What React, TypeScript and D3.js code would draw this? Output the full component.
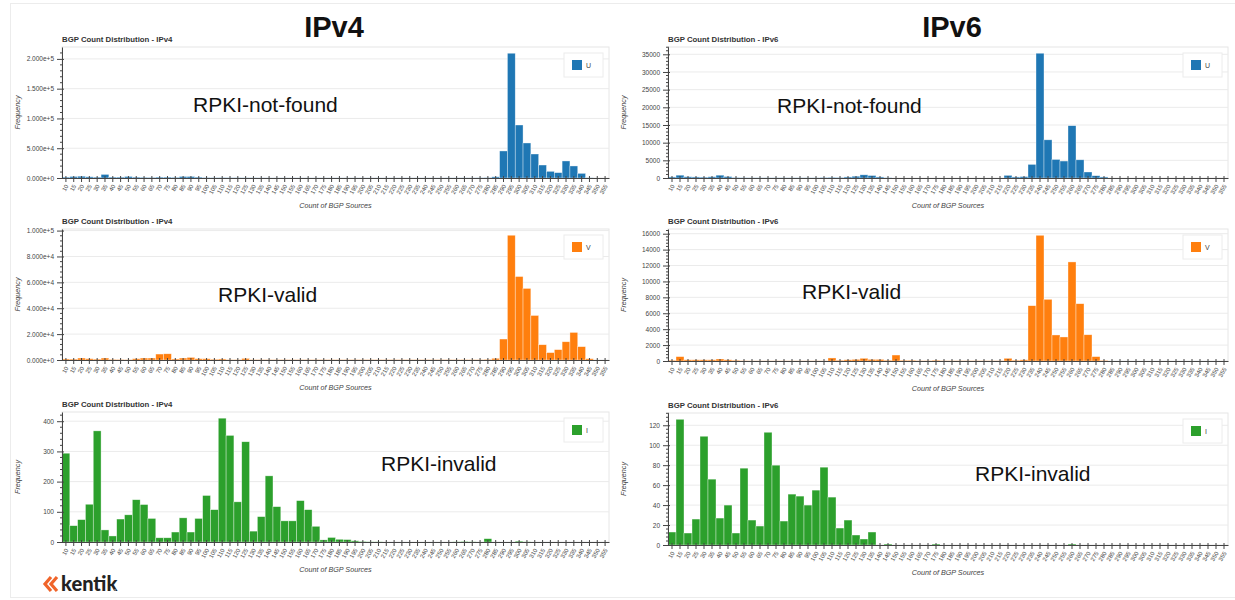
import React, { useEffect, useRef } from 'react';
import * as d3 from 'd3';

// BGP source counts (x categories), one bin per 5 sources
const bgpSources = [
  10, 15, 20, 25, 30, 35, 40, 45, 50, 55, 60, 65, 70, 75, 80, 85, 90, 95, 100, 105,
  110, 115, 120, 125, 130, 135, 140, 145, 150, 155, 160, 165, 170, 175, 180, 185, 190, 195, 200, 205,
  210, 215, 220, 225, 230, 235, 240, 245, 250, 255, 260, 265, 270, 275, 280, 285, 290, 295, 300, 305,
  310, 315, 320, 325, 330, 335, 340, 345, 350, 355,
];

const ipv4NotFound = [
  1500, 2500, 3000, 2000, 1500, 6000, 1500, 1500, 2500, 1500, 1200, 1000, 1500, 1500, 1200, 2500, 2500, 1500, 800, 600,
  500, 400, 400, 300, 300, 200, 150, 150, 150, 150, 150, 150, 150, 150, 150, 150, 150, 150, 150, 150,
  150, 150, 150, 150, 150, 150, 150, 150, 150, 200, 200, 200, 200, 300, 500, 2000, 45400, 209500, 89000, 58800,
  40300, 21800, 11200, 9000, 28600, 20200, 7800, 300, 0, 0,
];

const ipv4Valid = [
  800, 700, 1500, 1000, 700, 1500, 500, 400, 300, 1000, 1500, 1500, 4600, 4800, 800, 1500, 2000, 1000, 1000, 600,
  800, 300, 300, 1200, 300, 200, 200, 200, 200, 200, 200, 200, 200, 200, 200, 200, 200, 200, 200, 200,
  200, 200, 200, 200, 200, 200, 200, 200, 200, 200, 200, 300, 300, 300, 500, 1300, 16200, 96400, 64500, 55300,
  34400, 11800, 5700, 8000, 14100, 21300, 10300, 1000, 0, 0,
];

const ipv4Invalid = [
  294, 54, 74, 125, 368, 40, 20, 76, 90, 140, 124, 78, 14, 14, 33, 80, 33, 78, 154, 107,
  410, 353, 133, 332, 36, 84, 219, 117, 70, 70, 137, 107, 52, 7, 15, 9, 8, 4, 2, 1,
  1, 0, 0, 0, 0, 0, 0, 0, 0, 0, 1, 2, 1, 0, 11, 0, 0, 0, 3, 1,
  0, 0, 0, 0, 0, 0, 0, 0, 0, 0,
];

const ipv6NotFound = [
  300, 800, 350, 300, 250, 350, 800, 400, 150, 100, 50, 50, 50, 50, 50, 50, 50, 50, 50, 150,
  200, 150, 300, 500, 900, 700, 300, 100, 0, 0, 0, 0, 0, 0, 0, 0, 0, 0, 0, 0,
  0, 0, 750, 300, 400, 3850, 35300, 10800, 5250, 4800, 14800, 5150, 1700, 650, 300, 0, 0, 0, 0, 0,
  0, 0, 0, 0, 0, 0, 0, 0, 0, 0,
];

const ipv6Valid = [
  100, 550, 150, 150, 150, 150, 250, 150, 100, 50, 20, 20, 20, 20, 20, 20, 20, 20, 20, 20,
  380, 100, 150, 200, 340, 200, 200, 100, 750, 100, 100, 50, 50, 100, 30, 30, 30, 30, 30, 30,
  30, 30, 340, 100, 150, 6950, 15800, 7750, 3270, 3020, 12450, 7200, 3300, 550, 80, 0, 0, 0, 0, 0,
  0, 0, 0, 0, 0, 0, 0, 0, 0, 0,
];

const ipv6Invalid = [
  13, 126, 12, 26, 109, 66, 27, 40, 12, 77, 25, 19, 113, 80, 24, 51, 49, 40, 55, 78,
  48, 17, 25, 10, 6, 13, 0, 1, 0, 0, 0, 0, 0, 1, 0, 0, 0, 0, 0, 0,
  0, 0, 0, 0, 0, 0, 0, 0, 0, 0, 1, 0, 0, 0, 0, 0, 0, 0, 0, 0,
  0, 0, 0, 0, 0, 0, 0, 0, 0, 0,
];

const versions = ['IPv4', 'IPv6'];
const statusNotes = ['RPKI-not-found', 'RPKI-valid', 'RPKI-invalid'];
const legendKeys = ['U', 'V', 'I'];
const statusColors = ['#1f77b4', '#ff7f0e', '#2ca02c'];

const W = 1235;
const H = 600;
const FONT = '"Liberation Sans", Arial, Helvetica, sans-serif';

const columns = [
  { left: 62, right: 609, center: 334, rows: [[47, 178], [229, 360], [412, 542]] },
  { left: 668, right: 1228, center: 952, rows: [[47, 178], [229, 361], [413, 545]] },
];
// position of the big annotation text per panel [col][row]
const notePos = [
  [[193, 112], [218, 302], [381, 471]],
  [[777, 113], [802, 299], [975, 481]],
];
const tickCounts = [[5, 5, 5], [8, 8, 6]];

const seriesGrid = [
  [ipv4NotFound, ipv4Valid, ipv4Invalid],
  [ipv6NotFound, ipv6Valid, ipv6Invalid],
];

const App = () => {
  const ref = useRef<SVGSVGElement>(null);

  useEffect(() => {
    const svg = d3.select(ref.current);
    svg.selectAll('*').remove();

    svg.append('rect').attr('width', W).attr('height', H).attr('fill', '#fff');
    svg.append('rect')
      .attr('x', 10.5).attr('y', 3.5).attr('width', W).attr('height', 594)
      .attr('fill', 'none').attr('stroke', '#ececec');

    columns.forEach((col, ci) => {
      svg.append('text')
        .attr('x', col.center).attr('y', 37)
        .attr('text-anchor', 'middle')
        .attr('font-family', FONT).attr('font-weight', 700).attr('font-size', 29)
        .attr('fill', '#111')
        .text(versions[ci]);

      col.rows.forEach(([top, bottom], ri) => {
        const values = seriesGrid[ci][ri];
        const data = bgpSources.map((s, i) => ({ cat: String(s), value: values[i] }));
        const g = svg.append('g');

        const x = d3.scaleBand().domain(data.map((d) => d.cat)).range([col.left, col.right]).padding(0);
        const maxV = d3.max(data, (d) => d.value) as number;
        const y = d3.scaleLinear().domain([0, maxV * 1.05]).range([bottom, top]);
        const ticks = y.ticks(tickCounts[ci][ri]);
        const step = ticks[1] - ticks[0];
        const minor = d3.range(0, maxV * 1.05, step / 5).filter((v) => Math.abs(v / step - Math.round(v / step)) > 1e-6);
        const fmt = ci === 0 && ri < 2 ? d3.format('.3e') : d3.format('d');

        // title
        g.append('text')
          .attr('x', col.left).attr('y', top - 5)
          .attr('font-family', FONT).attr('font-weight', 700).attr('font-size', 7.8)
          .attr('fill', '#333')
          .text(`BGP Count Distribution - ${versions[ci]}`);

        // outline + grid
        g.append('rect')
          .attr('x', col.left).attr('y', top).attr('width', col.right - col.left).attr('height', bottom - top)
          .attr('fill', 'none').attr('stroke', '#e6e6e6');
        g.selectAll('.grid').data(ticks.filter((t) => t > 0)).enter().append('line')
          .attr('x1', col.left).attr('x2', col.right)
          .attr('y1', (d) => y(d)).attr('y2', (d) => y(d))
          .attr('stroke', '#ebebeb');

        // bars
        g.selectAll('.bar').data(data).enter().append('rect')
          .attr('x', (d) => x(d.cat) as number)
          .attr('y', (d) => y(d.value))
          .attr('width', x.bandwidth())
          .attr('height', (d) => bottom - y(d.value))
          .attr('fill', statusColors[ri])
          .attr('stroke', '#fff').attr('stroke-opacity', 0.6).attr('stroke-width', 0.6);

        // y axis
        const ya = g.append('g').attr('transform', `translate(${col.left},0)`)
          .call(d3.axisLeft(y).tickValues(ticks).tickFormat(fmt as any).tickSizeInner(5).tickSizeOuter(0).tickPadding(3));
        ya.select('.domain').attr('stroke', '#444');
        ya.selectAll('.tick line').attr('x1', 2).attr('stroke', '#444');
        ya.selectAll('text').attr('font-family', FONT).attr('font-size', 6.5).attr('fill', '#444');
        g.selectAll('.minor').data(minor).enter().append('line')
          .attr('x1', col.left - 2).attr('x2', col.left + 1)
          .attr('y1', (d) => y(d)).attr('y2', (d) => y(d))
          .attr('stroke', '#444');

        // x axis
        const xa = g.append('g').attr('transform', `translate(0,${bottom})`)
          .call(d3.axisBottom(x).tickSizeInner(4).tickSizeOuter(0));
        xa.select('.domain').attr('stroke', '#444');
        xa.selectAll('.tick line').attr('y1', -2).attr('stroke', '#444');
        xa.selectAll('text')
          .attr('x', 0).attr('y', 0).attr('dy', '0.35em').attr('dx', 0)
          .attr('transform', 'translate(1,7) rotate(-60)')
          .attr('text-anchor', 'end')
          .attr('font-family', FONT).attr('font-size', 6).attr('fill', '#444');

        // axis labels
        g.append('text')
          .attr('x', (col.left + col.right) / 2).attr('y', bottom + 30)
          .attr('text-anchor', 'middle').attr('font-style', 'italic')
          .attr('font-family', FONT).attr('font-size', 7.2).attr('fill', '#444')
          .text('Count of BGP Sources');
        g.append('text')
          .attr('transform', `translate(${col.left - 42},${(top + bottom) / 2}) rotate(-90)`)
          .attr('text-anchor', 'middle').attr('font-style', 'italic')
          .attr('font-family', FONT).attr('font-size', 7.2).attr('fill', '#444')
          .text('Frequency');

        // legend
        const lx = col.right - 45;
        const ly = top + 6;
        g.append('rect').attr('x', lx).attr('y', ly).attr('width', 39).attr('height', 24)
          .attr('fill', '#fff').attr('stroke', '#ececec');
        g.append('rect').attr('x', lx + 8).attr('y', ly + 7).attr('width', 10).attr('height', 10)
          .attr('fill', statusColors[ri]);
        g.append('text').attr('x', lx + 22).attr('y', ly + 14.5)
          .attr('font-family', FONT).attr('font-size', 7).attr('fill', '#444')
          .text(legendKeys[ri]);

        // annotation
        const [nx, ny] = notePos[ci][ri];
        g.append('text').attr('x', nx).attr('y', ny)
          .attr('font-family', FONT).attr('font-size', 21).attr('fill', '#111')
          .text(statusNotes[ri]);
      });
    });

    // kentik logo
    const logo = svg.append('g');
    [0, 6].forEach((dx) => {
      logo.append('path')
        .attr('d', `M${51 + dx},577 L${45 + dx},584 L${51 + dx},591`)
        .attr('fill', 'none').attr('stroke', '#f0642a').attr('stroke-width', 3.2)
        .attr('stroke-linejoin', 'miter');
    });
    logo.append('text').attr('x', 61).attr('y', 591)
      .attr('font-family', 'Lato, "Open Sans", sans-serif').attr('font-weight', 900).attr('font-size', 20)
      .attr('fill', '#222').text('kentik');
    logo.append('circle').attr('cx', 115).attr('cy', 590).attr('r', 1).attr('fill', '#888');
  }, []);

  return <svg ref={ref} width={W} height={H} style={{ position: 'absolute', left: 0, top: 0 }} />;
};

export default App;
